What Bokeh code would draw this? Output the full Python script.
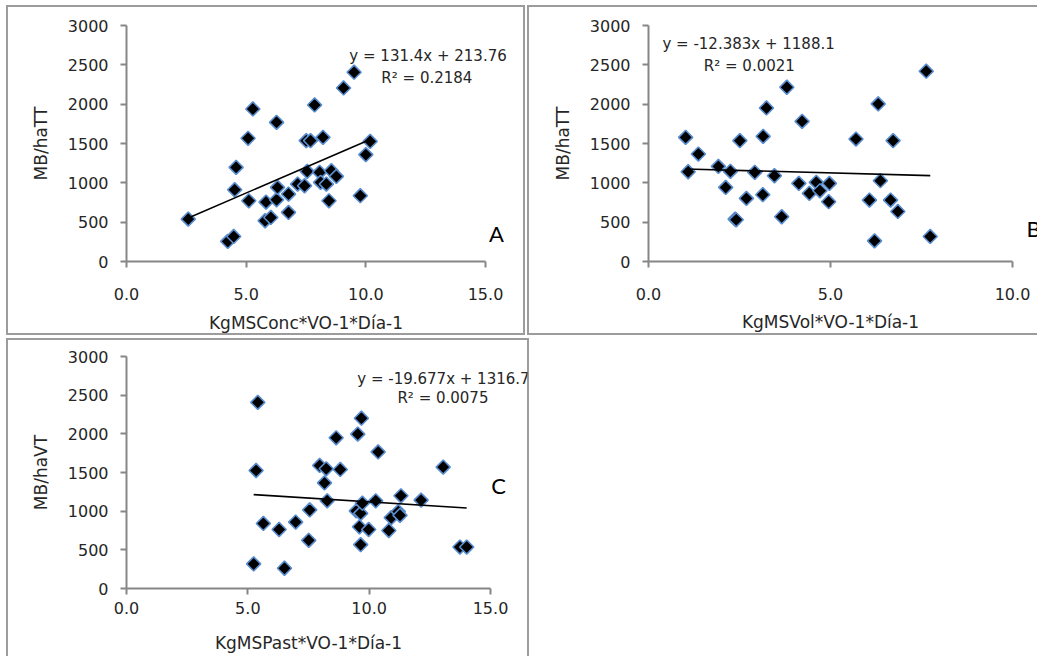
import numpy as np
from bokeh.plotting import figure
from bokeh.models import Range1d, FixedTicker, NumeralTickFormatter, Label, Spacer
from bokeh.layouts import column, row
from bokeh.embed import file_html
from bokeh.resources import INLINE

# --- observations: forage intake per cow vs. milk yield per hectare ---
conc_x = [2.58, 4.23, 4.48, 4.52, 4.58, 5.11, 5.08, 5.28, 5.79, 6.03, 5.83, 6.27,
          6.31, 6.27, 6.77, 6.77, 7.15, 7.44, 7.55, 7.51, 7.69, 7.86, 8.21, 8.07,
          8.11, 8.35, 8.46, 8.56, 8.77, 9.07, 9.51, 9.77, 10.00, 10.18]
conc_y = [539, 255, 318, 912, 1197, 772, 1566, 1939, 518, 560, 755, 785,
          942, 1769, 624, 857, 984, 963, 1146, 1536, 1536, 1990, 1578, 1133,
          1006, 984, 772, 1154, 1082, 2206, 2406, 836, 1358, 1527]

vol_x = [1.02, 1.09, 1.37, 1.92, 2.25, 2.12, 2.38, 2.41, 2.51, 2.69, 2.92, 3.14,
         3.15, 3.24, 3.46, 3.66, 3.80, 4.13, 4.22, 4.42, 4.61, 4.71, 4.97, 4.95,
         5.70, 6.07, 6.21, 6.31, 6.37, 6.65, 6.72, 6.85, 7.63, 7.74]
vol_y = [1578, 1141, 1366, 1209, 1146, 942, 539, 530, 1536, 802, 1133, 849,
         1591, 1952, 1090, 569, 2215, 993, 1782, 866, 1006, 899, 993, 760,
         1557, 781, 263, 2003, 1027, 781, 1536, 636, 2419, 318]

past_x = [5.41, 5.34, 5.64, 5.24, 6.29, 6.51, 6.97, 7.55, 7.51, 7.96, 8.23, 8.16,
          8.27, 8.64, 8.81, 9.53, 9.68, 9.47, 9.65, 9.72, 9.60, 9.65, 9.98, 10.37,
          10.27, 10.81, 10.91, 11.20, 11.27, 11.31, 12.14, 13.05, 13.74, 14.02]
past_y = [2407, 1526, 841, 318, 763, 262, 859, 1016, 623, 1591, 1548, 1365,
          1134, 1949, 1539, 1997, 2202, 1003, 972, 1103, 798, 567, 763, 1766,
          1134, 750, 916, 994, 946, 1199, 1142, 1570, 536, 536]

# linear trend fits (slope, intercept, R squared)
conc_fit = (131.4, 213.76, 0.2184)
vol_fit = (-12.383, 1188.1, 0.0021)
past_fit = (-19.677, 1316.7, 0.0075)

y_ticks = [0, 500, 1000, 1500, 2000, 2500, 3000]
x_ticks_wide = [0, 5, 10, 15]
x_ticks_narrow = [0, 5, 10]

FONT = "DejaVu Sans"
LETTER_FONT = "Lato"
TEXT = "#262626"
AXIS = "#868686"
EDGE = "#9c9c9c"


def panel_box(left=True, top=True, right=True, bottom=True):
    parts = []
    if left:
        parts.append(f"inset 2px 0 0 0 {EDGE}")
    if top:
        parts.append(f"inset 0 2px 0 0 {EDGE}")
    if right:
        parts.append(f"inset -2px 0 0 0 {EDGE}")
    if bottom:
        parts.append(f"inset 0 -2px 0 0 {EDGE}")
    return {"box-shadow": ", ".join(parts)}


def make_panel(width, height, left, top, axis_w, axis_h, right_pad, xmax, xticks,
               xs, ys, fit, xlabel, ylabel, eq_text, eq_xy, r2_xy, letter, letter_xy,
               box, x_standoff, xlabel_y):
    # the plotting frame runs to the panel's right edge so that the fit
    # annotations beside the axis stay visible; the axis itself is bounded
    frame_w = width - left - right_pad
    x_end = xmax * frame_w / axis_w
    bottom = height - top - axis_h
    p = figure(width=width, height=height,
               x_range=Range1d(0, x_end), y_range=Range1d(0, 3000),
               min_border_left=left, min_border_right=right_pad,
               min_border_top=top, min_border_bottom=bottom,
               output_backend="svg", toolbar_location=None)
    p.border_fill_color = None
    p.background_fill_color = None
    p.outline_line_color = None
    p.xgrid.visible = False
    p.ygrid.visible = False
    p.styles = box

    p.scatter(xs, ys, marker="square", size=10, angle=np.pi / 4,
              fill_color="black", line_color="#5a8ed0", line_width=1.6)

    slope, intercept, r2 = fit
    fx = np.array([min(xs), max(xs)])
    p.line(fx, slope * fx + intercept, line_color="black", line_width=1.6)

    p.xaxis.bounds = (0, xmax)
    p.xaxis.ticker = FixedTicker(ticks=xticks)
    p.xaxis.formatter = NumeralTickFormatter(format="0.0")
    p.yaxis.ticker = FixedTicker(ticks=y_ticks)
    for ax in (p.xaxis[0], p.yaxis[0]):
        ax.axis_line_color = AXIS
        ax.axis_line_width = 2
        ax.major_tick_line_color = AXIS
        ax.major_tick_line_width = 2
        ax.major_tick_out = 6
        ax.major_tick_in = 0
        ax.minor_tick_line_color = None
        ax.major_label_text_font = FONT
        ax.major_label_text_font_size = "16px"
        ax.major_label_text_color = TEXT
        ax.axis_label_text_font = FONT
        ax.axis_label_text_font_size = "17px"
        ax.axis_label_text_font_style = "normal"
        ax.axis_label_text_color = TEXT
    p.yaxis.axis_label = ylabel
    p.xaxis.major_label_standoff = x_standoff
    p.yaxis.major_label_standoff = 12
    p.yaxis.axis_label_standoff = 14

    # x-axis title, centred under the bounded axis rather than the wider frame
    p.add_layout(Label(x=xmax / 2, y=xlabel_y, text=xlabel, text_align="center",
                       text_baseline="middle", text_font=FONT, text_font_size="17px",
                       text_color=TEXT), "below")

    for txt, (lx, ly) in ((eq_text, eq_xy), (f"R² = {r2}", r2_xy)):
        p.add_layout(Label(x=lx, y=ly, text=txt, text_align="center",
                           text_baseline="middle", text_font=FONT,
                           text_font_size="15px", text_color=TEXT))
    p.add_layout(Label(x=letter_xy[0], y=letter_xy[1], text=letter,
                       text_align="center", text_baseline="middle",
                       text_font=LETTER_FONT, text_font_size="22px",
                       text_color="black"))
    return p


pA = make_panel(519, 330, 120, 20, 359, 236, 2, 15, x_ticks_wide,
                conc_x, conc_y, conc_fit,
                "KgMSConc*VO-1*Día-1", "MB/haTT",
                "y = 131.4x + 213.76", (12.6, 2606), (12.55, 2330),
                "A", (15.46, 360), panel_box(), 20, -788)

pB = make_panel(510, 330, 121, 20, 364, 236, 0, 10, x_ticks_narrow,
                vol_x, vol_y, vol_fit,
                "KgMSVol*VO-1*Día-1", "MB/haTT",
                "y = -12.383x + 1188.1", (2.75, 2767), (2.77, 2491),
                "B", (10.58, 419), panel_box(right=False), 20, -770)

pC = make_panel(523, 318, 120, 18, 364, 232, 2, 15, x_ticks_wide,
                past_x, past_y, past_fit,
                "KgMSPast*VO-1*Día-1", "MB/haVT",
                "y = -19.677x + 1316.7", (13.06, 2703), (13.04, 2457),
                "C", (15.33, 1332), panel_box(bottom=False), 7, -711)

layout = column(
    Spacer(height=5),
    row(Spacer(width=6), pA, Spacer(width=2), pB),
    Spacer(height=3),
    row(Spacer(width=6), pC),
)

open("out.html", "w").write(file_html(layout, INLINE))
